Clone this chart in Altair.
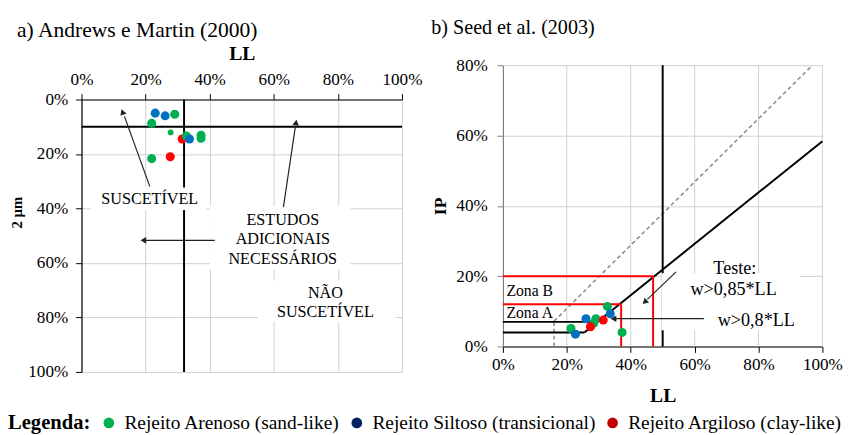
import altair as alt
import pandas as pd

FONT = "Liberation Serif"

# ---------------- categories / colours ----------------
groups = ["Rejeito Arenoso (sand-like)", "Rejeito Siltoso (transicional)", "Rejeito Argiloso (clay-like)"]
point_colors = ["#00B050", "#0070C0", "#FF0000"]
legend_colors = ["#00B050", "#002060", "#C00000"]

# ---------------- a) Andrews e Martin (2000): LL (%) x fração < 2 µm (%) ----------------
a_sand_ll = [29.1, 21.9, 32.7, 37.3, 37.3, 21.9]
a_sand_fine = [5.4, 8.7, 13.4, 13.1, 14.2, 21.7]
a_sand_small_ll = [27.8]
a_sand_small_fine = [12.1]
a_silt_ll = [23.0, 26.1, 33.7]
a_silt_fine = [5.0, 6.0, 14.5]
a_clay_ll = [31.4, 27.7]
a_clay_fine = [14.5, 21.0]

a_limit_ll = 32      # LL limit
a_limit_fine = 10    # % < 2 µm limit

# ---------------- b) Seed et al. (2003): LL (%) x IP (%) ----------------
b_sand_ll = [32.7, 29.1, 28.4, 21.3, 37.3]
b_sand_ip = [11.4, 7.9, 6.6, 5.1, 4.0]
b_silt_ll = [33.6, 26.0, 22.7]
b_silt_ip = [9.3, 7.9, 3.5]
b_clay_ll = [31.4, 27.4]
b_clay_ip = [7.5, 5.6]

zona_a_ll, zona_a_ip = 37, 12
zona_b_ll, zona_b_ip = 47, 20
b_limit_ll = 50
a_line_ll = [25.5, 100]
a_line_ip = [4, 58.4]
clml_ip = [4, 7]
clml_ll_end = [25.5, 29.6]
u_line_ll = [16, 16, 96.9]
u_line_ip = [0, 7.2, 80]

ticks_a = [0, 20, 40, 60, 80, 100]
ticks_b_y = [0, 20, 40, 60, 80]
grid_b_x = [20, 40, 60, 80, 100]

GRID = "#d0d0d0"


def pct_axis(orient, title, values, title_size=20, dom="black", grid=True, **kw):
    return alt.Axis(
        orient=orient, title=title, values=values, labelExpr="datum.value + '%'",
        grid=grid, gridColor=GRID, gridWidth=1,
        domainColor=dom, tickColor=dom, tickSize=6, domainWidth=1.2,
        labelFontSize=17.5, labelColor="black", labelFont=FONT, labelFlush=False,
        labelOverlap=False,
        titleFontSize=title_size, titleFontWeight="bold", titleColor="black", titleFont=FONT,
        **kw)


# ================= panel a =================
sx_a = alt.Scale(domain=[0, 100], nice=False, zero=False)
sy_a = alt.Scale(domain=[0, 100], reverse=True, nice=False, zero=False)
ax_a_x = pct_axis("top", "LL", ticks_a, labelPadding=5, titlePadding=8)
ax_a_y = pct_axis("left", "2 µm", ticks_a, title_size=15, labelPadding=8, titlePadding=3,
                  titleY=115)


def XA(f):
    return alt.X(f, type="quantitative", scale=sx_a, axis=ax_a_x)


def YA(f):
    return alt.Y(f, type="quantitative", scale=sy_a, axis=ax_a_y)


a_rules = pd.DataFrame({
    "ll": [0, a_limit_ll], "ll2": [100, a_limit_ll],
    "v": [a_limit_fine, 0], "v2": [a_limit_fine, 100]})
a_boxes = pd.DataFrame({
    "ll": [3, 40, 55], "ll2": [39, 84, 98],
    "v": [32.3, 39.2, 66.5], "v2": [40.6, 62.5, 81.5]})
a_arrow_lines = pd.DataFrame({
    "ll": [21.3, 41.6, 63.0], "ll2": [13.4, 20.0, 66.7],
    "v": [31.9, 51.7, 39.5], "v2": [6.2, 51.7, 10.2]})
a_texts = pd.DataFrame({
    "ll": [21.3, 62.8, 62.8, 62.8, 76.1, 76.1],
    "v": [36.7, 44.2, 51.4, 58.6, 70.9, 78.1],
    "t": ["SUSCETÍVEL", "ESTUDOS", "ADICIONAIS", "NECESSÁRIOS", "NÃO", "SUSCETÍVEL"]})

layers_a = [
    alt.Chart(a_rules).mark_rule(color="black", strokeWidth=2).encode(
        x=XA("ll"), x2="ll2", y=YA("v"), y2="v2"),
    alt.Chart(a_boxes).mark_rect(color="white").encode(
        x=XA("ll"), x2="ll2", y=YA("v"), y2="v2"),
    alt.Chart(a_arrow_lines).mark_rule(color="#222222", strokeWidth=1.2).encode(
        x=XA("ll"), x2="ll2", y=YA("v"), y2="v2"),
    alt.Chart(pd.DataFrame({"ll": [12.9], "v": [4.9]})).mark_point(
        shape="triangle", filled=True, size=45, angle=339, color="#222222", opacity=1).encode(
        x=XA("ll"), y=YA("v")),
    alt.Chart(pd.DataFrame({"ll": [19.3], "v": [51.7]})).mark_point(
        shape="triangle-left", filled=True, size=45, color="#222222", opacity=1).encode(
        x=XA("ll"), y=YA("v")),
    alt.Chart(pd.DataFrame({"ll": [66.9], "v": [8.8]})).mark_point(
        shape="triangle", filled=True, size=45, angle=8, color="#222222", opacity=1).encode(
        x=XA("ll"), y=YA("v")),
    alt.Chart(a_texts).mark_text(font=FONT, fontSize=16.5, color="black").encode(
        x=XA("ll"), y=YA("v"), text="t:N"),
    alt.Chart(pd.DataFrame({"ll": a_clay_ll, "v": a_clay_fine})).mark_circle(
        size=85, opacity=1, color=point_colors[2]).encode(x=XA("ll"), y=YA("v")),
    alt.Chart(pd.DataFrame({"ll": a_sand_ll, "v": a_sand_fine})).mark_circle(
        size=85, opacity=1, color=point_colors[0]).encode(x=XA("ll"), y=YA("v")),
    alt.Chart(pd.DataFrame({"ll": a_sand_small_ll, "v": a_sand_small_fine})).mark_circle(
        size=35, opacity=1, color=point_colors[0]).encode(x=XA("ll"), y=YA("v")),
    alt.Chart(pd.DataFrame({"ll": a_silt_ll, "v": a_silt_fine})).mark_circle(
        size=85, opacity=1, color=point_colors[1]).encode(x=XA("ll"), y=YA("v")),
]
left = alt.layer(*layers_a).properties(
    width=327, height=278,
    title=alt.TitleParams("a) Andrews e Martin (2000)", anchor="start", frame="bounds",
                          fontSize=22, fontWeight="normal", font=FONT, color="black",
                          offset=2, dx=7))

# ================= panel b =================
# plot of panel b starts 35 px above panel a's top edge: its y range reaches above the view
B_H = 252
B_UP = 35
sx_b = alt.Scale(domain=[0, 100], nice=False, zero=False)
sy_b = alt.Scale(domain=[0, 80], nice=False, zero=False, range=[B_H, -B_UP])
ax_b_x = pct_axis("bottom", "LL", ticks_a, grid=False, labelPadding=4, titlePadding=13)
ax_b_y = pct_axis("left", "IP", ticks_b_y, title_size=18, dom="#808080",
                  labelPadding=10, titlePadding=6)


def XB(f):
    return alt.X(f, type="quantitative", scale=sx_b, axis=ax_b_x)


def YB(f):
    return alt.Y(f, type="quantitative", scale=sy_b, axis=ax_b_y)


b_grid = pd.DataFrame({"ll": grid_b_x, "ll2": grid_b_x,
                       "v": [0] * len(grid_b_x), "v2": [80] * len(grid_b_x)})
b_red = pd.DataFrame({
    "ll": [0, zona_b_ll, 0, zona_a_ll],
    "ll2": [zona_b_ll, zona_b_ll, zona_a_ll, zona_a_ll],
    "v": [zona_b_ip, 0, zona_a_ip, 0],
    "v2": [zona_b_ip, zona_b_ip, zona_a_ip, zona_a_ip]})
b_black = pd.DataFrame({
    "ll": [b_limit_ll, a_line_ll[0], 0, 0],
    "ll2": [b_limit_ll, a_line_ll[1], clml_ll_end[0], clml_ll_end[1]],
    "v": [0, a_line_ip[0], clml_ip[0], clml_ip[1]],
    "v2": [80, a_line_ip[1], clml_ip[0], clml_ip[1]]})
b_dash = pd.DataFrame({
    "ll": u_line_ll[:-1], "ll2": u_line_ll[1:],
    "v": u_line_ip[:-1], "v2": u_line_ip[1:]})
b_box = pd.DataFrame({"ll": [49.6], "ll2": [93], "v": [4.6], "v2": [20.8]})
b_arrow_lines = pd.DataFrame({
    "ll": [54.2, 62.9], "ll2": [45.2, 35.3],
    "v": [21.2, 7.9], "v2": [13.4, 7.9]})
b_texts_left = pd.DataFrame({"ll": [1.1, 1.1], "v": [15.8, 9.4], "t": ["Zona B", "Zona A"]})
b_texts = pd.DataFrame({
    "ll": [72.6, 72.2, 79.3], "v": [22.3, 16.2, 7.5],
    "t": ["Teste:", "w>0,85*LL", "w>0,8*LL"]})

layers_b = [
    alt.Chart(b_grid).mark_rule(color=GRID, strokeWidth=1).encode(
        x=XB("ll"), x2="ll2", y=YB("v"), y2="v2"),
    alt.Chart(b_dash).mark_rule(color="#8c8c8c", strokeWidth=1.6, strokeDash=[4, 3]).encode(
        x=XB("ll"), x2="ll2", y=YB("v"), y2="v2"),
    alt.Chart(b_black).mark_rule(color="black", strokeWidth=2).encode(
        x=XB("ll"), x2="ll2", y=YB("v"), y2="v2"),
    alt.Chart(b_red).mark_rule(color="#FF0000", strokeWidth=2).encode(
        x=XB("ll"), x2="ll2", y=YB("v"), y2="v2"),
    alt.Chart(b_box).mark_rect(color="white").encode(
        x=XB("ll"), x2="ll2", y=YB("v"), y2="v2"),
    alt.Chart(b_arrow_lines).mark_rule(color="#222222", strokeWidth=1.2).encode(
        x=XB("ll"), x2="ll2", y=YB("v"), y2="v2"),
    alt.Chart(pd.DataFrame({"ll": [44.6], "v": [12.8]})).mark_point(
        shape="triangle", filled=True, size=45, angle=226, color="#222222", opacity=1).encode(
        x=XB("ll"), y=YB("v")),
    alt.Chart(pd.DataFrame({"ll": [34.6], "v": [7.9]})).mark_point(
        shape="triangle-left", filled=True, size=45, color="#222222", opacity=1).encode(
        x=XB("ll"), y=YB("v")),
    alt.Chart(b_texts_left).mark_text(font=FONT, fontSize=16, color="black", align="left").encode(
        x=XB("ll"), y=YB("v"), text="t:N"),
    alt.Chart(b_texts).mark_text(font=FONT, fontSize=18.5, color="black").encode(
        x=XB("ll"), y=YB("v"), text="t:N"),
    alt.Chart(pd.DataFrame({"ll": b_sand_ll, "v": b_sand_ip})).mark_circle(
        size=85, opacity=1, color=point_colors[0]).encode(x=XB("ll"), y=YB("v")),
    alt.Chart(pd.DataFrame({"ll": b_clay_ll, "v": b_clay_ip})).mark_circle(
        size=85, opacity=1, color=point_colors[2]).encode(x=XB("ll"), y=YB("v")),
    alt.Chart(pd.DataFrame({"ll": b_silt_ll, "v": b_silt_ip})).mark_circle(
        size=85, opacity=1, color=point_colors[1]).encode(x=XB("ll"), y=YB("v")),
]
right = alt.layer(*layers_b).properties(
    width=326, height=B_H,
    title=alt.TitleParams("b) Seed et al. (2003)", anchor="start", frame="bounds",
                          fontSize=20.5, fontWeight="normal", font=FONT, color="black",
                          offset=18, dx=-1))

# ================= legend =================
legend_chart = alt.Chart(pd.DataFrame({"grupo": groups})).mark_circle(opacity=0).encode(
    color=alt.Color("grupo:N", scale=alt.Scale(domain=groups, range=legend_colors),
                    legend=alt.Legend(
                        title="Legenda:", orient="none", legendX=-75, legendY=0,
                        direction="horizontal", titleOrient="left",
                        titleFont=FONT, titleFontSize=21, titleFontWeight="bold", titleColor="black",
                        titlePadding=9,
                        labelFont=FONT, labelFontSize=19.8, labelColor="black", labelLimit=400,
                        labelOffset=6, columnPadding=7,
                        symbolType="circle", symbolSize=120, symbolOpacity=1,
                        symbolStrokeWidth=0))
).properties(width=1, height=1)

top_row = alt.hconcat(left, right, spacing=8)

chart = alt.vconcat(
    top_row,
    legend_chart,
    spacing=4,
).resolve_legend(color="independent").resolve_scale(color="independent").configure(
    font=FONT, padding={"left": 0, "top": 6, "right": 0, "bottom": 0}
).configure_view(stroke=None)

chart.save("out.html", embed_options={"renderer": "svg", "actions": False})
